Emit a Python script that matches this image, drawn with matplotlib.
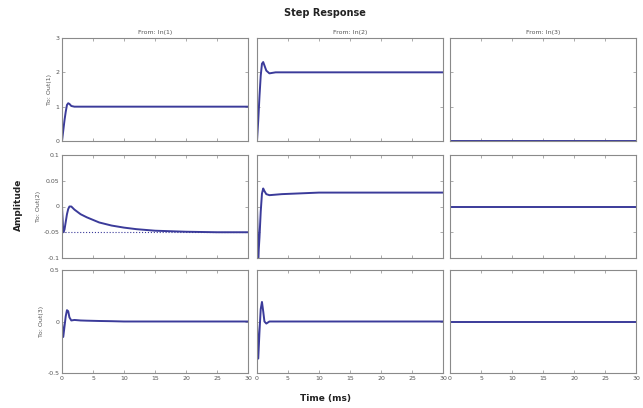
import matplotlib
matplotlib.use("Agg")
import matplotlib.pyplot as plt

# time samples (ms) and step responses
t = [0, 0.2, 0.4, 0.6, 0.8, 1.0, 1.2, 1.5, 2, 3, 4, 6, 8, 10, 12, 15, 20, 25, 30]

out1_in1 = [0, 0.3, 0.6, 0.85, 1.05, 1.1, 1.08, 1.02, 1.0, 1.0, 1.0, 1.0, 1.0, 1.0, 1.0, 1.0, 1.0, 1.0, 1.0]
out1_in2 = [0, 0.6, 1.3, 1.9, 2.25, 2.3, 2.2, 2.05, 1.97, 2.0, 2.0, 2.0, 2.0, 2.0, 2.0, 2.0, 2.0, 2.0, 2.0]
out1_in3 = [0] * len(t)

out2_in1 = [0, -0.05, -0.045, -0.03, -0.015, -0.005, 0.0, 0.0, -0.006, -0.015, -0.021, -0.031, -0.037, -0.041, -0.044, -0.047, -0.049, -0.05, -0.05]
out2_in2 = [0, -0.1, -0.06, -0.01, 0.025, 0.035, 0.03, 0.024, 0.022, 0.023, 0.024, 0.025, 0.026, 0.027, 0.027, 0.027, 0.027, 0.027, 0.027]
out2_in3 = [0] * len(t)

out3_in1 = [0, -0.15, -0.05, 0.05, 0.11, 0.1, 0.04, 0.01, 0.015, 0.01, 0.008, 0.005, 0.003, 0.0, 0.0, 0.0, 0.0, 0.0, 0.0]
out3_in2 = [0, -0.36, -0.1, 0.12, 0.19, 0.1, 0.0, -0.02, 0.0, 0.0, 0.0, 0.0, 0.0, 0.0, 0.0, 0.0, 0.0, 0.0, 0.0]
out3_in3 = [0] * len(t)

responses = [[out1_in1, out1_in2, out1_in3],
             [out2_in1, out2_in2, out2_in3],
             [out3_in1, out3_in2, out3_in3]]

col_titles = ["From: In(1)", "From: In(2)", "From: In(3)"]
row_labels = ["To: Out(1)", "To: Out(2)", "To: Out(3)"]
row_ylims = [(0, 3), (-0.1, 0.1), (-0.5, 0.5)]
row_yticks = [[0, 1, 2, 3], [-0.1, -0.05, 0, 0.05, 0.1], [-0.5, 0, 0.5]]
row_yticklabels = [["0", "1", "2", "3"], ["-0.1", "-0.05", "0", "0.05", "0.1"], ["-0.5", "0", "0.5"]]
steady_out2_in1 = -0.05
xticks = [0, 5, 10, 15, 20, 25, 30]

W, H = 643, 408
fig = plt.figure(figsize=(W / 100, H / 100), dpi=100)

lefts = [62, 257, 450]
tops = [38, 155, 270]
aw, ah = 186, 103
line_col = "#3b3b9a"
txt_col = "#555555"

for r in range(3):
    for c in range(3):
        ax = fig.add_axes([lefts[c] / W, 1 - (tops[r] + ah) / H, aw / W, ah / H])
        if r == 1 and c == 0:
            ax.axhline(steady_out2_in1, color=line_col, ls=":", lw=0.8)
        ax.plot(t, responses[r][c], color=line_col, lw=1.4)
        ax.set_xlim(0, 30)
        ax.set_ylim(*row_ylims[r])
        ax.set_xticks(xticks)
        ax.set_yticks(row_yticks[r])
        ax.tick_params(direction="in", top=True, right=True, length=2.5,
                       width=0.5, colors="#888888", labelsize=4.5, labelcolor=txt_col, pad=2)
        for s in ax.spines.values():
            s.set_color("#8a8a8a")
            s.set_linewidth(0.8)
        if c == 0:
            ax.set_yticklabels(row_yticklabels[r])
            ax.set_ylabel(row_labels[r], fontsize=4.5, color=txt_col, labelpad=2)
        else:
            ax.set_yticklabels([])
        if r == 2:
            ax.set_xticklabels([str(x) for x in xticks])
        else:
            ax.set_xticklabels([])
        if r == 0:
            ax.set_title(col_titles[c], fontsize=4.5, color=txt_col, pad=3)

fig.text(325 / W, 1 - 13 / H, "Step Response", ha="center", va="center",
         fontsize=7, fontweight="bold", color="#222222")
fig.text(325 / W, 1 - 399 / H, "Time (ms)", ha="center", va="center",
         fontsize=6.5, fontweight="bold", color="#222222")
fig.text(18 / W, 1 - 205 / H, "Amplitude", ha="center", va="center", rotation=90,
         fontsize=6.5, fontweight="bold", color="#222222")

fig.savefig("out.png", dpi=100, facecolor="white")
